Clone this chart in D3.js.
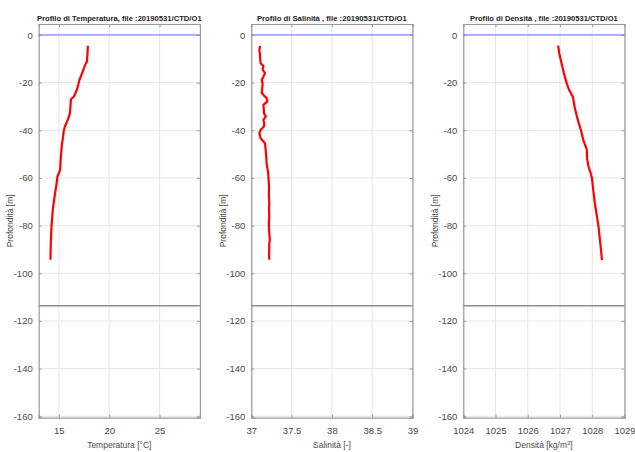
<!DOCTYPE html>
<html><head><meta charset="utf-8">
<script src="https://cdn.jsdelivr.net/npm/d3@7"></script>
<style>
body{margin:0;background:#fff;}
svg{display:block;}
</style></head>
<body>
<svg id="c" width="635" height="452"></svg>
<script>
// ---- data ----
const titles = ["Profilo di Temperatura, file :20190531/CTD/O1",
                "Profilo di Salinità , file :20190531/CTD/O1",
                "Profilo di Densità , file :20190531/CTD/O1"];
const xLabels = ["Temperatura [°C]", "Salinità [-]", "Densità [kg/m3]"];
const yLabel = "Profondità  [m]";
const xTicksT = [15, 20, 25];
const xTicksS = [37, 37.5, 38, 38.5, 39];
const xTicksD = [1024, 1025, 1026, 1027, 1028, 1029];
const yTicks = [0, -20, -40, -60, -80, -100, -120, -140, -160];
const bottomDepth = -113.6;
const surfaceDepth = 0;

const tempDepth = [-4.5,-8,-11.2,-12.6,-14.5,-16.3,-18.9,-21,-23,-25.8,-27,-30,-32.8,-34.9,-36.5,-38.4,-40.5,-42.6,-46.1,-50,-53,-56.6,-59.4,-63,-66.4,-70,-73.3,-77,-80.3,-84,-87.3,-91,-94.3];
const tempVal   = [17.88,17.84,17.78,17.6,17.45,17.28,17.04,16.92,16.79,16.5,16.2,16.15,16.1,15.95,15.8,15.6,15.48,15.42,15.3,15.22,15.17,15.13,14.86,14.75,14.63,14.5,14.4,14.33,14.27,14.23,14.2,14.18,14.17];

const salDepth = [-4.6,-6.5,-8.4,-10,-11.9,-13,-14.5,-16,-17.5,-18.8,-20.5,-22.3,-24.4,-25.5,-26.5,-27.9,-29.3,-31,-32.8,-34.2,-35.6,-37,-38.4,-39.8,-41.2,-43.3,-45.4,-48.2,-51,-53.8,-56,-58,-61,-63.6,-67,-70.6,-73,-76.2,-79,-81.7,-84,-85.9,-88,-90.1,-92,-94.3];
const salVal   = [37.108,37.1,37.108,37.11,37.116,37.15,37.14,37.17,37.15,37.13,37.14,37.136,37.13,37.16,37.19,37.2,37.15,37.155,37.157,37.18,37.15,37.16,37.157,37.116,37.1,37.116,37.17,37.178,37.185,37.19,37.2,37.21,37.215,37.22,37.218,37.223,37.22,37.223,37.218,37.22,37.225,37.23,37.222,37.223,37.22,37.223];

const denDepth = [-4.5,-8,-12,-16,-20,-23,-26,-30,-34,-37,-40,-44,-48,-52,-55,-58,-60,-65,-70.6,-75,-80,-85,-90,-94.5];
const denVal   = [1026.94,1026.98,1027.05,1027.12,1027.2,1027.28,1027.4,1027.45,1027.52,1027.58,1027.65,1027.72,1027.83,1027.84,1027.88,1027.95,1027.99,1028.03,1028.08,1028.13,1028.19,1028.23,1028.27,1028.3];

// ---- drawing ----
const svg = d3.select("#c");
const panels = [
  {left:38.7, xDomain:[13,29], ticks:xTicksT, depth:tempDepth, val:tempVal, title:titles[0], tl:165, xl:xLabels[0], ylx:10},
  {left:251.3, xDomain:[37,39], ticks:xTicksS, depth:salDepth, val:salVal, title:titles[1], tl:150, xl:xLabels[1], ylx:223},
  {left:463.3, xDomain:[1024,1029], ticks:xTicksD, depth:denDepth, val:denVal, title:titles[2], tl:148, xl:xLabels[2], ylx:435}
];
const W = 161.2, yTop = 24, yBot = 417.7;
const y = d3.scaleLinear().domain([-160.6, 4.6]).range([yBot, yTop]);
const axisCol = "#9a9a9a", textCol = "#4a4a4a", gridCol = "#e6e6e6";
const font = "'Liberation Sans', Arial, sans-serif";
const narrow = "'Liberation Sans Narrow', 'Liberation Sans', Arial, sans-serif";

panels.forEach((p, i) => {
  const x = d3.scaleLinear().domain(p.xDomain).range([p.left, p.left + W]);
  const g = svg.append("g");
  g.selectAll(".gx").data(p.ticks).join("line")
    .attr("x1", d=>x(d)).attr("x2", d=>x(d)).attr("y1", yTop).attr("y2", yBot)
    .attr("stroke", gridCol).attr("stroke-width", 1);
  g.selectAll(".gy").data(yTicks).join("line")
    .attr("x1", p.left).attr("x2", p.left + W).attr("y1", d=>y(d)).attr("y2", d=>y(d))
    .attr("stroke", gridCol).attr("stroke-width", 1);
  const ax = d3.axisBottom(x).tickValues(p.ticks).tickSize(-3).tickPadding(10).tickFormat(d => String(d));
  const gxA = g.append("g").attr("transform", `translate(0,${yBot})`).call(ax);
  const axT = d3.axisTop(x).tickValues(p.ticks).tickSize(-3).tickFormat("");
  const gxT = g.append("g").attr("transform", `translate(0,${yTop})`).call(axT);
  const ay = d3.axisLeft(y).tickValues(yTicks).tickSize(-3).tickPadding(6).tickFormat(d => String(d));
  const gyA = g.append("g").attr("transform", `translate(${p.left},0)`).call(ay);
  const ayR = d3.axisRight(y).tickValues(yTicks).tickSize(-3).tickFormat("");
  const gyR = g.append("g").attr("transform", `translate(${p.left + W},0)`).call(ayR);
  [gxA, gxT, gyA, gyR].forEach(a => {
    a.select(".domain").attr("stroke", axisCol).attr("stroke-width", 1.2);
    a.selectAll(".tick line").attr("stroke", axisCol);
    a.selectAll("text").attr("fill", textCol).style("font-family", font).style("font-size", "9.5px");
  });
  g.append("line").attr("x1", p.left).attr("x2", p.left + W)
    .attr("y1", y(surfaceDepth)).attr("y2", y(surfaceDepth))
    .attr("stroke", "#6f6ff0").attr("stroke-width", 1);
  g.append("line").attr("x1", p.left).attr("x2", p.left + W)
    .attr("y1", y(bottomDepth)).attr("y2", y(bottomDepth))
    .attr("stroke", "#8f8f8f").attr("stroke-width", 1.6);
  const line = d3.line().x(d=>x(d[0])).y(d=>y(d[1]));
  g.append("path").datum(p.val.map((v,k)=>[v, p.depth[k]]))
    .attr("d", line).attr("fill", "none").attr("stroke", "#ff0000")
    .attr("stroke-width", 2.2).attr("stroke-linejoin", "round");
  const t = g.append("text").attr("x", p.left + W/2).attr("y", 20.5).attr("text-anchor", "middle")
    .style("font-family", narrow).style("font-size", "10px").style("font-weight", "bold")
    .attr("fill", "#222").text(p.title);
  const nat = t.node().getComputedTextLength();
  if (nat > 0) t.style("font-size", (10 * p.tl / nat).toFixed(2) + "px");
  const xl = g.append("text").attr("x", p.left + W/2).attr("y", 448).attr("text-anchor", "middle")
    .style("font-family", narrow).style("font-size", "8.5px").attr("fill", textCol);
  if (i === 2) {
    xl.append("tspan").text("Densità [kg/m");
    xl.append("tspan").attr("dy", -3).style("font-size", "6px").text("3");
    xl.append("tspan").attr("dy", 3).text("]");
  } else xl.text(p.xl);
  g.append("text").attr("transform", `translate(${p.ylx},${(yTop+yBot)/2}) rotate(-90)`)
    .attr("text-anchor", "middle").attr("dy", "0.35em")
    .style("font-family", narrow).style("font-size", "8.5px").attr("fill", textCol)
    .text(yLabel);
});
</script>
</body></html>
